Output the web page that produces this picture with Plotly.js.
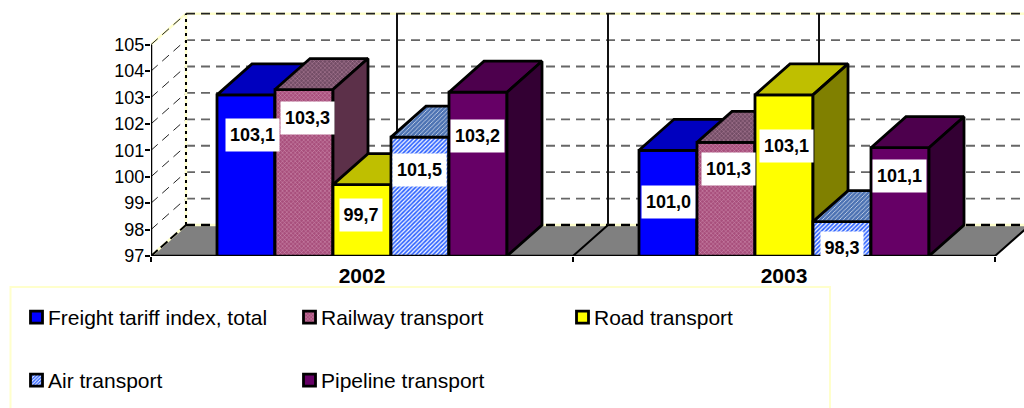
<!DOCTYPE html>
<html>
<head>
<meta charset="utf-8">
<script src="https://cdn.plot.ly/plotly-3.0.1.min.js"></script>
<style>html,body{margin:0;padding:0;background:#fff;overflow:hidden}#chart{width:1024px;height:408px}</style>
</head>
<body>
<div id="chart"></div>
<script>
// ---- data ----
const years = ['2002', '2003'];
const freightTotal = [103.1, 101.0];
const railway = [103.3, 101.3];
const road = [99.7, 103.1];
const air = [101.5, 98.3];
const pipeline = [103.2, 101.1];
const seriesNames = ['Freight tariff index, total', 'Railway transport', 'Road transport', 'Air transport', 'Pipeline transport'];
const seriesValues = [freightTotal, railway, road, air, pipeline];
const valueLabels = [
  ['103,1', '101,0'], ['103,3', '101,3'], ['99,7', '103,1'], ['101,5', '98,3'], ['103,2', '101,1']
];
const yTicks = [97, 98, 99, 100, 101, 102, 103, 104, 105];

// ---- geometry of the pseudo-3D projection (pixels → axis units) ----
const W = 1024, H = 408, L = 151, B = 256;
const pxPerCat = 422, pxPerUnit = 26.42;
const xRange = [0.5, 0.5 + (W - L) / pxPerCat];
const yRange = [97, 97 + B / pxPerUnit];
const barW = 58 / pxPerCat;
const dx = 35 / pxPerCat, dy = 31 / pxPerUnit;
const px = p => 0.5 + (p - L) / pxPerCat;     // pixel x → axis x
const py = p => 97 + (B - p) / pxPerUnit;     // pixel y → axis y
const paperX = p => (p - L) / (W - L);
const paperY = p => (B - p) / B;

// ---- styles ----
const FONT = '"Liberation Sans", Arial, sans-serif';
const styles = [
  {front: '#0000ff', top: '#0000bf', side: '#000080'},
  {front: '#993366', top: '#734d66', side: '#5c3049',
   pat: {shape: 'x', size: 3, solidity: 0.25, fgcolor: '#d9a0bd', bgcolor: '#a84f7c'}},
  {front: '#ffff00', top: '#bfbf00', side: '#808000'},
  {front: '#3366ff', top: '#4d73b3', side: '#26407f',
   pat: {shape: '/', size: 3, solidity: 0.4, fgcolor: '#ffffff', bgcolor: '#3366ff'}},
  {front: '#660066', top: '#4d004d', side: '#330033'}
];
// label box centres (pixels in the picture)
const labelPx = [
  [[252.5, 135], [668.5, 202]],
  [[307.5, 118], [728.5, 169]],
  [[361, 215], [786.5, 146]],
  [[419.5, 170], [842, 248]],
  [[477.5, 136], [899.5, 176]]
];

const traces = [];
const line = (x, y, color, width, dash, extra) => traces.push(Object.assign({
  type: 'scatter', mode: 'lines', x, y, hoverinfo: 'skip', showlegend: false,
  line: {color, width, dash: dash || 'solid'}, cliponaxis: true
}, extra || {}));

const xEnd = 2.5, yTop = 105;
// floor
traces.push({type: 'scatter', mode: 'lines', x: [0.5, 0.5 + dx, xEnd + dx, xEnd, 0.5], y: [97, 97 + dy, 97 + dy, 97, 97],
  fill: 'toself', fillcolor: '#808080', line: {width: 0, color: '#808080'}, hoverinfo: 'skip', showlegend: false});
// back-wall gridlines
yTicks.slice(1, -1).forEach(v => line([0.5 + dx, xEnd + dx], [v + dy, v + dy], '#666666', 1.8, '9px,6px'));
// side-wall gridlines
yTicks.slice(1, -1).forEach(v => line([0.5, 0.5 + dx], [v, v + dy], '#222222', 1, '9px,6px'));
// pale-yellow frame with black dashes
const frame = [
  [[0.5, 0.5 + dx], [yTop, yTop + dy]],
  [[0.5 + dx, 0.5 + dx], [97 + dy, yTop + dy]],
  [[0.5 + dx, xEnd + dx], [yTop + dy, yTop + dy]],
  [[0.5 + dx, xEnd + dx], [97 + dy, 97 + dy]],
  [[0.5, 0.5 + dx], [97, 97 + dy]]
];
frame.forEach(f => line(f[0], f[1], '#ffffcc', 2.5));
line(frame[0][0], frame[0][1], '#222222', 1, '9px,6px');
line(frame[1][0], frame[1][1], '#000000', 2, '3px,4px');
line(frame[2][0], frame[2][1], '#222222', 1.6, '9px,6px');
line(frame[3][0], frame[3][1], '#000000', 2.5, '9px,6px');
line(frame[4][0], frame[4][1], '#000000', 2, '9px,4px');
// back-wall vertical lines and floor diagonals
[1, 1.5, 2].forEach(v => line([v + dx, v + dx], [97 + dy, yTop + dy], '#111111', 2));
[1.5, 2.5].forEach(v => line([v, v + dx], [97, 97 + dy], '#000000', 2));

const legendCommon = {
  xanchor: 'left', yanchor: 'top', orientation: 'h',
  entrywidth: 228, entrywidthmode: 'pixels', bgcolor: 'rgba(0,0,0,0)', borderwidth: 0,
  font: {family: FONT, size: 21, color: '#000000'}, itemclick: false, itemdoubleclick: false
};
const layout = {
  width: W, height: H, autosize: false,
  margin: {l: L, r: 0, t: 0, b: H - B, pad: 0, autoexpand: false},
  paper_bgcolor: '#ffffff', plot_bgcolor: 'rgba(0,0,0,0)',
  font: {family: FONT, color: '#000000', size: 18},
  showlegend: true,
  xaxis: {
    type: 'linear', range: xRange, tickvals: [1, 2], ticktext: years, showgrid: false, zeroline: false,
    showline: false, ticks: '', ticklabelstandoff: 5,
    tickfont: {family: FONT, size: 21, weight: 'bold', color: '#000000'},
    minor: {tickvals: [0.5, 1.5, 2.5], ticks: 'outside', ticklen: 5, tickwidth: 2, tickcolor: '#000000', showgrid: false},
    fixedrange: true
  },
  yaxis: {
    type: 'linear', range: yRange, tickvals: yTicks, ticktext: yTicks.map(String), showgrid: false, zeroline: false,
    showline: false, ticks: 'outside', ticklen: 5, tickwidth: 2, tickcolor: '#000000', ticklabelstandoff: -3,
    tickfont: {family: FONT, size: 18, color: '#000000'}, fixedrange: true
  },
  legend: Object.assign({x: paperX(8), y: paperY(297)}, legendCommon),
  legend2: Object.assign({x: paperX(8), y: paperY(360)}, legendCommon),
  shapes: [{
    type: 'rect', xref: 'paper', yref: 'paper', layer: 'below',
    x0: paperX(10.5), x1: paperX(830), y0: paperY(287), y1: paperY(420),
    line: {color: '#ffffcc', width: 2}, fillcolor: 'rgba(0,0,0,0)'
  }],
  annotations: []
};

// each series lives on its own overlaid axis pair so that the painter's order is left → right
seriesValues.forEach((vals, i) => {
  const n = i + 2, xa = 'x' + n, ya = 'y' + n, st = styles[i];
  layout['xaxis' + n] = {overlaying: 'x', range: xRange, visible: false, anchor: ya, fixedrange: true};
  layout['yaxis' + n] = {overlaying: 'y', range: yRange, visible: false, anchor: xa, fixedrange: true};
  const centers = [1, 2].map(c => c + (i - 2) * barW);
  const legendOf = i < 3 ? 'legend' : 'legend2';
  const marker = {color: st.front, line: {color: '#000000', width: 2.8}};
  if (st.pat) marker.pattern = st.pat;
  traces.push({
    type: 'bar', name: seriesNames[i], x: centers, y: vals, width: barW, marker, xaxis: xa, yaxis: ya,
    legend: legendOf, hoverinfo: 'y+name'
  });
  vals.forEach((v, k) => {
    const xl = centers[k] - barW / 2, xr = centers[k] + barW / 2;
    const facePat = st.pat ? {shape: st.pat.shape, size: st.pat.size, solidity: 0.2, fgcolor: st.pat.fgcolor, bgcolor: st.top} : undefined;
    const common = {type: 'scatter', mode: 'lines', xaxis: xa, yaxis: ya, showlegend: false, hoverinfo: 'skip',
      fill: 'toself', line: {color: '#000000', width: 2.8}};
    const topFace = Object.assign({}, common, {
      x: [xl, xl + dx, xr + dx, xr, xl], y: [v, v + dy, v + dy, v, v], fillcolor: st.top});
    if (facePat) topFace.fillpattern = facePat;
    const sideFace = Object.assign({}, common, {
      x: [xr, xr + dx, xr + dx, xr, xr], y: [v, v + dy, 97 + dy, 97, v], fillcolor: st.side});
    traces.push(topFace, sideFace);
    // value label
    const lp = labelPx[i][k];
    const short = valueLabels[i][k].length < 5;
    layout.annotations.push({
      xref: 'x', yref: 'y', x: px(lp[0]), y: py(lp[1]), text: valueLabels[i][k], showarrow: false,
      xanchor: 'center', yanchor: 'middle', width: short ? 42 : 53, height: 32, bgcolor: '#ffffff', borderpad: 0,
      font: {family: FONT, size: 18, weight: 'bold', color: '#000000'}
    });
  });
});

// front axis lines, on the top overlay
layout.xaxis7 = {overlaying: 'x', range: xRange, visible: false, anchor: 'y7', fixedrange: true};
layout.yaxis7 = {overlaying: 'y', range: yRange, visible: false, anchor: 'x7', fixedrange: true};
const lastAxes = {xaxis: 'x7', yaxis: 'y7', cliponaxis: false};
line([0.5, 0.5], [97, yTop], '#000000', 2.5, 'solid', lastAxes);
line([0.5, xEnd], [97, 97], '#000000', 2.5, 'solid', lastAxes);

Plotly.newPlot('chart', traces, layout, {displayModeBar: false, staticPlot: true}).then(gd => {
  // bring the legend swatches next to their labels, as in the picture
  gd.querySelectorAll('g.legendsymbols').forEach(g => g.setAttribute('transform', 'translate(8.5,0)'));
});
</script>
</body>
</html>
